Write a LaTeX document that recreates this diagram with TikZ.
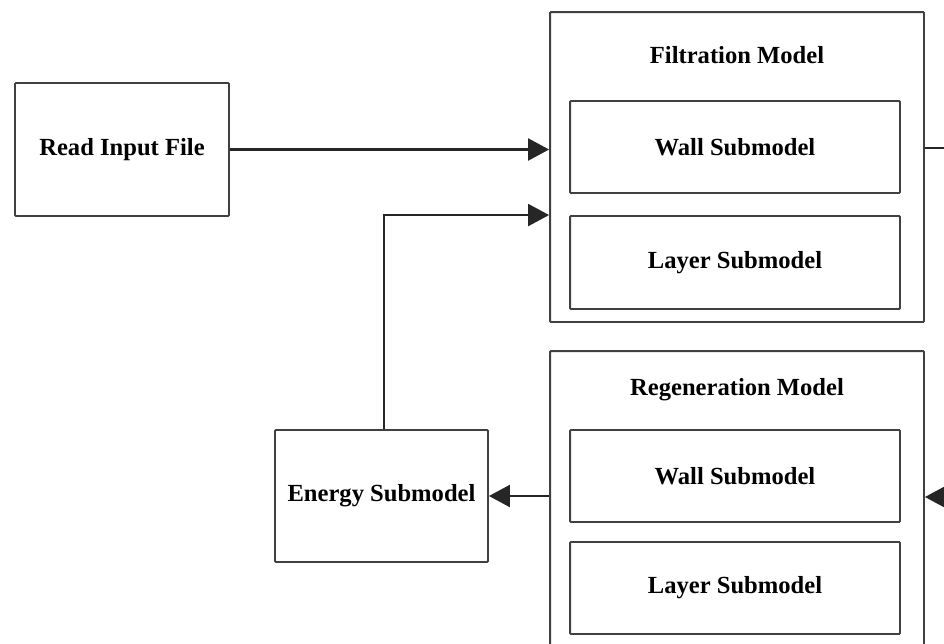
\documentclass[tikz,border=0pt]{standalone}
\usepackage{fontspec}
\setmainfont{Liberation Serif}
\usetikzlibrary{arrows.meta}

\begin{document}
\begin{tikzpicture}[x=0.02cm, y=-0.02cm,
    box/.style={draw=black!75, line width=1.1pt, fill=white, rounded corners=0.5pt,
                font=\fontsize{14}{16}\selectfont\bfseries, inner sep=0pt},
    title/.style={font=\fontsize{14}{16}\selectfont\bfseries, inner sep=0pt},
    wire/.style={draw=black!85, line width=1.3pt},
    arr/.style={wire, -{Triangle[length=0.42cm, width=0.44cm]}}]
            \useasboundingbox (0,0) rectangle (944,643);
            \clip (0,0) rectangle (944,643);
            % left column
            \node[box, minimum width=4.28cm, minimum height=2.66cm] (read) at (122,149.5) {Read Input File};
            \node[box, minimum width=4.26cm, minimum height=2.64cm] (energy) at (381.5,496) {Energy Submodel};
            % filtration model
            \node[box, minimum width=7.48cm, minimum height=6.2cm] (filt) at (737,167) {};
            \node[title] (ftitle) at (737,55) {Filtration Model};
            \node[box, minimum width=6.6cm, minimum height=1.84cm] (fwall) at (735,147) {Wall Submodel};
            \node[box, minimum width=6.6cm, minimum height=1.86cm] (flayer) at (735,262.5) {Layer Submodel};
            % regeneration model
            \node[box, minimum width=7.48cm, minimum height=6.18cm] (regen) at (737,505.5) {};
            \node[title] (rtitle) at (737,390) {Regeneration Model};
            \node[box, minimum width=6.6cm, minimum height=1.84cm] (rwall) at (735,476) {Wall Submodel};
            \node[box, minimum width=6.6cm, minimum height=1.84cm] (rlayer) at (735,588) {Layer Submodel};
            % connectors
            \coordinate (out) at (970,148);
            \coordinate (in) at (970,497);
            \draw[arr] (read.east) -- (read.east -| filt.west);
            \draw[arr] ([xshift=0.05cm]energy.north) |- (filt.west |- flayer.north);
            \draw[arr] (regen.west |- energy.east) -- (energy.east);
            \draw[wire] (filt.east |- out) -- (out);
            \draw[arr] (in) -- (regen.east |- in);
        \end{tikzpicture}
\end{document}
